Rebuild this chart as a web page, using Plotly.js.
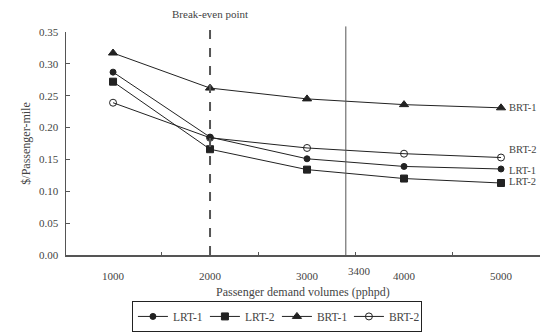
<!DOCTYPE html>
<html><head><meta charset="utf-8">
<script src="https://cdn.plot.ly/plotly-3.0.1.min.js"></script>
<style>html,body{margin:0;padding:0;background:#fff}#c{width:545px;height:335px}</style>
</head><body><div id="c"></div>
<script>
const volumes = [1000, 2000, 3000, 4000, 5000];
const lrt1 = [0.287, 0.185, 0.151, 0.139, 0.135];
const lrt2 = [0.272, 0.166, 0.134, 0.120, 0.113];
const brt1 = [0.317, 0.262, 0.245, 0.236, 0.231];
const brt2 = [0.239, 0.184, 0.168, 0.159, 0.153];
const seriesNames = ['LRT-1', 'LRT-2', 'BRT-1', 'BRT-2'];
const breakEven = 2000;
const refVolume = 3400;
const yTicks = [0, 0.05, 0.10, 0.15, 0.20, 0.25, 0.30, 0.35];
const xTicks = [1000, 2000, 3000, 4000, 5000];

const col = '#222';
const font = {family: 'Liberation Serif, serif', size: 11, color: '#444'};
function tr(y, name, sym, size) {
  return {x: volumes, y: y, name: name, type: 'scatter', mode: 'lines+markers',
    line: {color: col, width: 1},
    marker: {symbol: sym, size: size, color: col, line: {color: col, width: 1}}};
}
const data = [
  tr(lrt1, seriesNames[0], 'circle', 6),
  tr(lrt2, seriesNames[1], 'square', 7),
  tr(brt1, seriesNames[2], 'triangle-up', 8),
  tr(brt2, seriesNames[3], 'circle-open', 7)
];
const lastIdx = volumes.length - 1;
const labelY = [0.133, 0.115, brt1[lastIdx], 0.166];
const labFont = {family: font.family, size: 10.5, color: '#444'};
const anns = seriesNames.map((n, i) => ({x: volumes[lastIdx], y: labelY[i], xref: 'x', yref: 'y',
  text: n, showarrow: false, xanchor: 'left', xshift: 6, font: labFont}));
anns.push({x: breakEven, y: 1.045, xref: 'x', yref: 'paper', text: 'Break-even point', showarrow: false,
  xanchor: 'center', yanchor: 'bottom', font: font});
anns.push({x: refVolume, y: 0, xref: 'x', yref: 'paper', text: String(refVolume), showarrow: false,
  xanchor: 'left', yanchor: 'top', yshift: -8, xshift: 0, font: font});
anns.push({x: 0.5, y: -0.125, xref: 'paper', yref: 'paper', text: 'Passenger demand volumes (pphpd)',
  showarrow: false, xanchor: 'center', yanchor: 'top', font: {family: font.family, size: 12, color: '#444'}});

const layout = {
  width: 545, height: 335,
  margin: {l: 66, r: 5, t: 32, b: 80, autoexpand: false},
  paper_bgcolor: '#fff', plot_bgcolor: '#fff',
  font: font,
  showlegend: true,
  legend: {orientation: 'h', x: 0.445, xanchor: 'center', y: -0.345, yanchor: 'bottom',
    bordercolor: '#222', borderwidth: 1, font: {family: font.family, size: 11.5, color: '#444'},
    itemwidth: 30, entrywidth: 27, tracegroupgap: 0},
  xaxis: {range: [515, 5402], tickvals: xTicks, ticktext: xTicks.map(String), ticks: '',
    ticklabelstandoff: 10, automargin: false,
    showgrid: false, zeroline: false, showline: true, linecolor: '#555', linewidth: 1.5,
    tickfont: font, minor: {tickvals: [1500, 2500, 3500, 4500], ticks: 'inside', ticklen: 3, tickcolor: '#555'}},
  yaxis: {range: [0, 0.35], tickvals: yTicks, ticktext: yTicks.map(v => v.toFixed(2)),
    ticks: 'inside', ticklen: 4, tickcolor: '#555', showgrid: false, zeroline: false,
    ticklabelstandoff: 4, automargin: false,
    showline: true, linecolor: '#555', linewidth: 1.5, tickfont: font,
    title: {text: '$/Passenger-mile', font: {family: font.family, size: 12, color: '#444'}, standoff: 6}},
  shapes: [
    {type: 'line', xref: 'x', yref: 'paper', x0: breakEven, x1: breakEven, y0: 0, y1: 1.025,
      line: {color: '#555', width: 2, dash: 'dash'}},
    {type: 'line', xref: 'x', yref: 'paper', x0: refVolume, x1: refVolume, y0: 0, y1: 1.025,
      line: {color: '#555', width: 1}}
  ],
  annotations: anns
};
Plotly.newPlot('c', data, layout, {displayModeBar: false, staticPlot: true});
</script></body></html>
